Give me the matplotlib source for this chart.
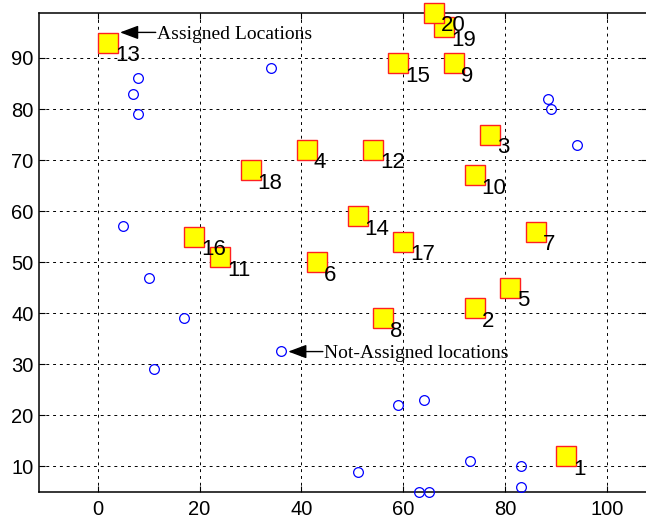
import matplotlib
matplotlib.use("Agg")
import matplotlib.pyplot as plt

# --- Data ---
assigned_id = list(range(1, 21))
assigned_x = [92, 74, 77, 41, 81, 43, 86, 56, 70, 74, 24, 54, 2, 51, 59, 19, 60, 30, 68, 66]
assigned_y = [12, 41, 75, 72, 45, 50, 56, 39, 89, 67, 51, 72, 93, 59, 89, 55, 54, 68, 96, 98.8]

unassigned_x = [8, 7, 8, 34, 5, 10, 17, 11, 36, 88.4, 89, 94, 59, 64, 51, 73, 83, 83, 63, 65]
unassigned_y = [86, 83, 79, 88, 57, 47, 39, 29, 32.7, 82, 80, 73, 22, 23, 9, 11, 10, 6, 5, 5]

x_ticks = [0, 20, 40, 60, 80, 100]
y_ticks = [10, 20, 30, 40, 50, 60, 70, 80, 90]

# (text, arrow tip, text start)
notes = [
    ("Assigned Locations", (4.4, 95.0), (11.4, 95.0)),
    ("Not-Assigned locations", (37.4, 32.5), (44.2, 32.5)),
]

plt.rcParams['font.family'] = ['Liberation Sans', 'DejaVu Sans']

fig = plt.figure(figsize=(6.46, 5.22), dpi=100)
ax = fig.add_axes([39 / 646, 1 - 492 / 522, (647 - 39) / 646, (492 - 13) / 522])

ax.set_xlim(-11.5, 107.8)
ax.set_ylim(5, 98.8)
ax.set_xticks(x_ticks)
ax.set_yticks(y_ticks)
ax.tick_params(direction='in', length=4, width=0.8, top=True, right=True,
               labelsize=14.5, colors='k')
ax.tick_params(axis='x', pad=6)
ax.tick_params(axis='y', pad=4)
for sp in ax.spines.values():
    sp.set_linewidth(1.1)

ax.grid(True, color='k', linestyle=(0, (3, 4)), linewidth=0.7)
ax.set_axisbelow(True)

# not-assigned locations
ax.plot(unassigned_x, unassigned_y, 'o', markersize=7, markerfacecolor='none',
        markeredgecolor='#0000ff', markeredgewidth=0.9, clip_on=False, zorder=3)

# assigned locations
ax.plot(assigned_x, assigned_y, 's', markersize=14, markerfacecolor='#ffff00',
        markeredgecolor='#ff2020', markeredgewidth=1.0, clip_on=False, zorder=4)

for i, x, y in zip(assigned_id, assigned_x, assigned_y):
    ax.annotate(str(i), (x, y), xytext=(7, -13), textcoords='offset pixels',
                ha='left', va='center', fontsize=16, color='k', zorder=5,
                annotation_clip=False)

for label, tip, start in notes:
    ax.annotate('', xy=tip, xytext=start,
                arrowprops=dict(arrowstyle='-|>,head_length=0.8,head_width=0.3',
                                mutation_scale=14, color='k', lw=1.0,
                                shrinkA=0, shrinkB=0), zorder=5)
    ax.text(start[0] + 0.2, start[1], label, ha='left', va='center_baseline',
            fontsize=14, family=['Liberation Serif', 'DejaVu Serif'], zorder=5)

fig.savefig("out.png", dpi=100)
